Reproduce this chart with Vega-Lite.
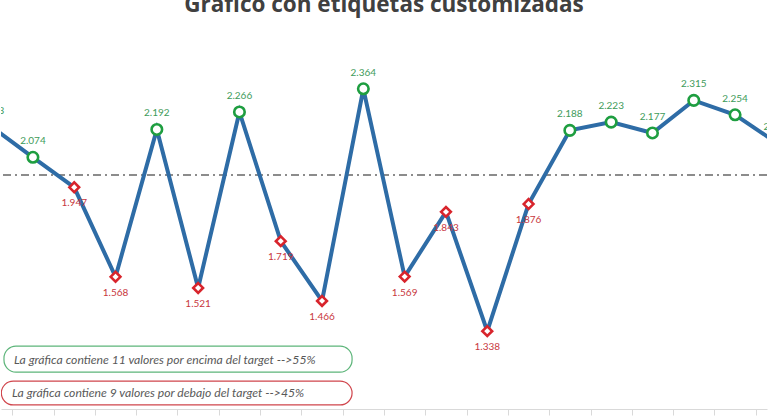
{
  "$schema": "https://vega.github.io/schema/vega-lite/v6.json",
  "width": 768,
  "height": 416,
  "autosize": {"type": "fit", "contains": "padding"},
  "padding": 0,
  "background": "white",
  "config": {"view": {"stroke": null}},
  "datasets": {
    "serie": [
      {"idx": 1, "valor": 2.203, "estado": "encima"},
      {"idx": 2, "valor": 2.074, "estado": "encima"},
      {"idx": 3, "valor": 1.947, "estado": "debajo"},
      {"idx": 4, "valor": 1.568, "estado": "debajo"},
      {"idx": 5, "valor": 2.192, "estado": "encima"},
      {"idx": 6, "valor": 1.521, "estado": "debajo"},
      {"idx": 7, "valor": 2.266, "estado": "encima"},
      {"idx": 8, "valor": 1.719, "estado": "debajo"},
      {"idx": 9, "valor": 1.466, "estado": "debajo"},
      {"idx": 10, "valor": 2.364, "estado": "encima"},
      {"idx": 11, "valor": 1.569, "estado": "debajo"},
      {"idx": 12, "valor": 1.843, "estado": "debajo"},
      {"idx": 13, "valor": 1.338, "estado": "debajo"},
      {"idx": 14, "valor": 1.876, "estado": "debajo"},
      {"idx": 15, "valor": 2.188, "estado": "encima"},
      {"idx": 16, "valor": 2.223, "estado": "encima"},
      {"idx": 17, "valor": 2.177, "estado": "encima"},
      {"idx": 18, "valor": 2.315, "estado": "encima"},
      {"idx": 19, "valor": 2.254, "estado": "encima"},
      {"idx": 20, "valor": 2.136, "estado": "encima"}
    ],
    "cajas": [
      {"x0": 1.299, "x1": 9.727, "y0": 1.2745, "y1": 1.1647, "tx": 1.541, "ty": 1.2166, "estado": "encima",
       "texto": "La gráfica contiene 11 valores por encima del target -->55%"},
      {"x0": 1.235, "x1": 9.727, "y0": 1.1267, "y1": 1.0255, "tx": 1.493, "ty": 1.076, "estado": "debajo",
       "texto": "La gráfica contiene 9 valores por debajo del target -->45%"}
    ]
  },
  "resolve": {"scale": {"color": "independent", "stroke": "independent"}},
  "layer": [
    {
      "data": {"name": "serie"},
      "mark": {"type": "rule", "stroke": "#8C8C8C", "strokeWidth": 1.3, "strokeDash": [8, 4, 2, 4]},
      "encoding": {
        "y": {"datum": 2, "type": "quantitative", "scale": {"domain": [1.0084, 2.74], "nice": false, "zero": false}, "axis": null}
      }
    },
    {
      "data": {"name": "serie"},
      "mark": {"type": "line", "stroke": "#2E6CA6", "strokeWidth": 4, "clip": true},
      "encoding": {
        "x": {
          "field": "idx", "type": "quantitative",
          "scale": {"domain": [1.227, 19.773], "nice": false, "zero": false},
          "axis": {
            "values": [1.5, 2.5, 3.5, 4.5, 5.5, 6.5, 7.5, 8.5, 9.5, 10.5, 11.5, 12.5, 13.5, 14.5, 15.5, 16.5, 17.5, 18.5, 19.5],
            "labels": false, "grid": false, "title": null, "tickSize": 6,
            "domainColor": "#D9D9D9", "tickColor": "#D9D9D9"
          }
        },
        "y": {"field": "valor", "type": "quantitative"}
      }
    },
    {
      "data": {"name": "serie"},
      "mark": {"type": "point", "filled": false, "fill": "white", "fillOpacity": 1, "strokeWidth": 2.6, "opacity": 1, "clip": true},
      "encoding": {
        "x": {"field": "idx", "type": "quantitative"},
        "y": {"field": "valor", "type": "quantitative"},
        "shape": {"field": "estado", "type": "nominal", "scale": {"domain": ["encima", "debajo"], "range": ["circle", "diamond"]}, "legend": null},
        "size": {"field": "estado", "type": "nominal", "scale": {"domain": ["encima", "debajo"], "range": [110, 95]}, "legend": null},
        "stroke": {"field": "estado", "type": "nominal", "scale": {"domain": ["encima", "debajo"], "range": ["#1E9E40", "#D8242C"]}, "legend": null}
      }
    },
    {
      "data": {"name": "serie"},
      "transform": [{"filter": "datum.estado == 'encima'"}],
      "mark": {"type": "text", "dy": -16, "fontSize": 10, "font": "Lato", "fill": "#3E9B5A", "baseline": "middle", "clip": true},
      "encoding": {
        "x": {"field": "idx", "type": "quantitative"},
        "y": {"field": "valor", "type": "quantitative"},
        "text": {"field": "valor", "type": "quantitative", "format": ".3f"}
      }
    },
    {
      "data": {"name": "serie"},
      "transform": [{"filter": "datum.estado == 'debajo'"}],
      "mark": {"type": "text", "dy": 16, "fontSize": 10, "font": "Lato", "fill": "#C8373D", "baseline": "middle", "clip": true},
      "encoding": {
        "x": {"field": "idx", "type": "quantitative"},
        "y": {"field": "valor", "type": "quantitative"},
        "text": {"field": "valor", "type": "quantitative", "format": ".3f"}
      }
    },
    {
      "data": {"name": "cajas"},
      "mark": {"type": "rect", "fill": "white", "cornerRadius": 12, "strokeWidth": 1.2, "clip": true},
      "encoding": {
        "x": {"field": "x0", "type": "quantitative"},
        "x2": {"field": "x1"},
        "y": {"field": "y0", "type": "quantitative"},
        "y2": {"field": "y1"},
        "stroke": {"field": "estado", "type": "nominal", "scale": {"domain": ["encima", "debajo"], "range": ["#5DB57A", "#D0454C"]}, "legend": null}
      }
    },
    {
      "data": {"name": "cajas"},
      "mark": {"type": "text", "align": "left", "baseline": "middle", "font": "Lato", "fontStyle": "italic", "fontSize": 12.2, "fill": "#595959"},
      "encoding": {
        "x": {"field": "tx", "type": "quantitative"},
        "y": {"field": "ty", "type": "quantitative"},
        "text": {"field": "texto"}
      }
    },
    {
      "data": {"values": [{"tx": 10.5, "ty": 2.689, "titulo": "Gráfico con etiquetas customizadas"}]},
      "mark": {"type": "text", "align": "center", "baseline": "alphabetic", "font": "Open Sans", "fontWeight": "bold", "fontSize": 22.5, "fill": "#404040", "clip": true},
      "encoding": {
        "x": {"field": "tx", "type": "quantitative"},
        "y": {"field": "ty", "type": "quantitative"},
        "text": {"field": "titulo"}
      }
    }
  ]
}
